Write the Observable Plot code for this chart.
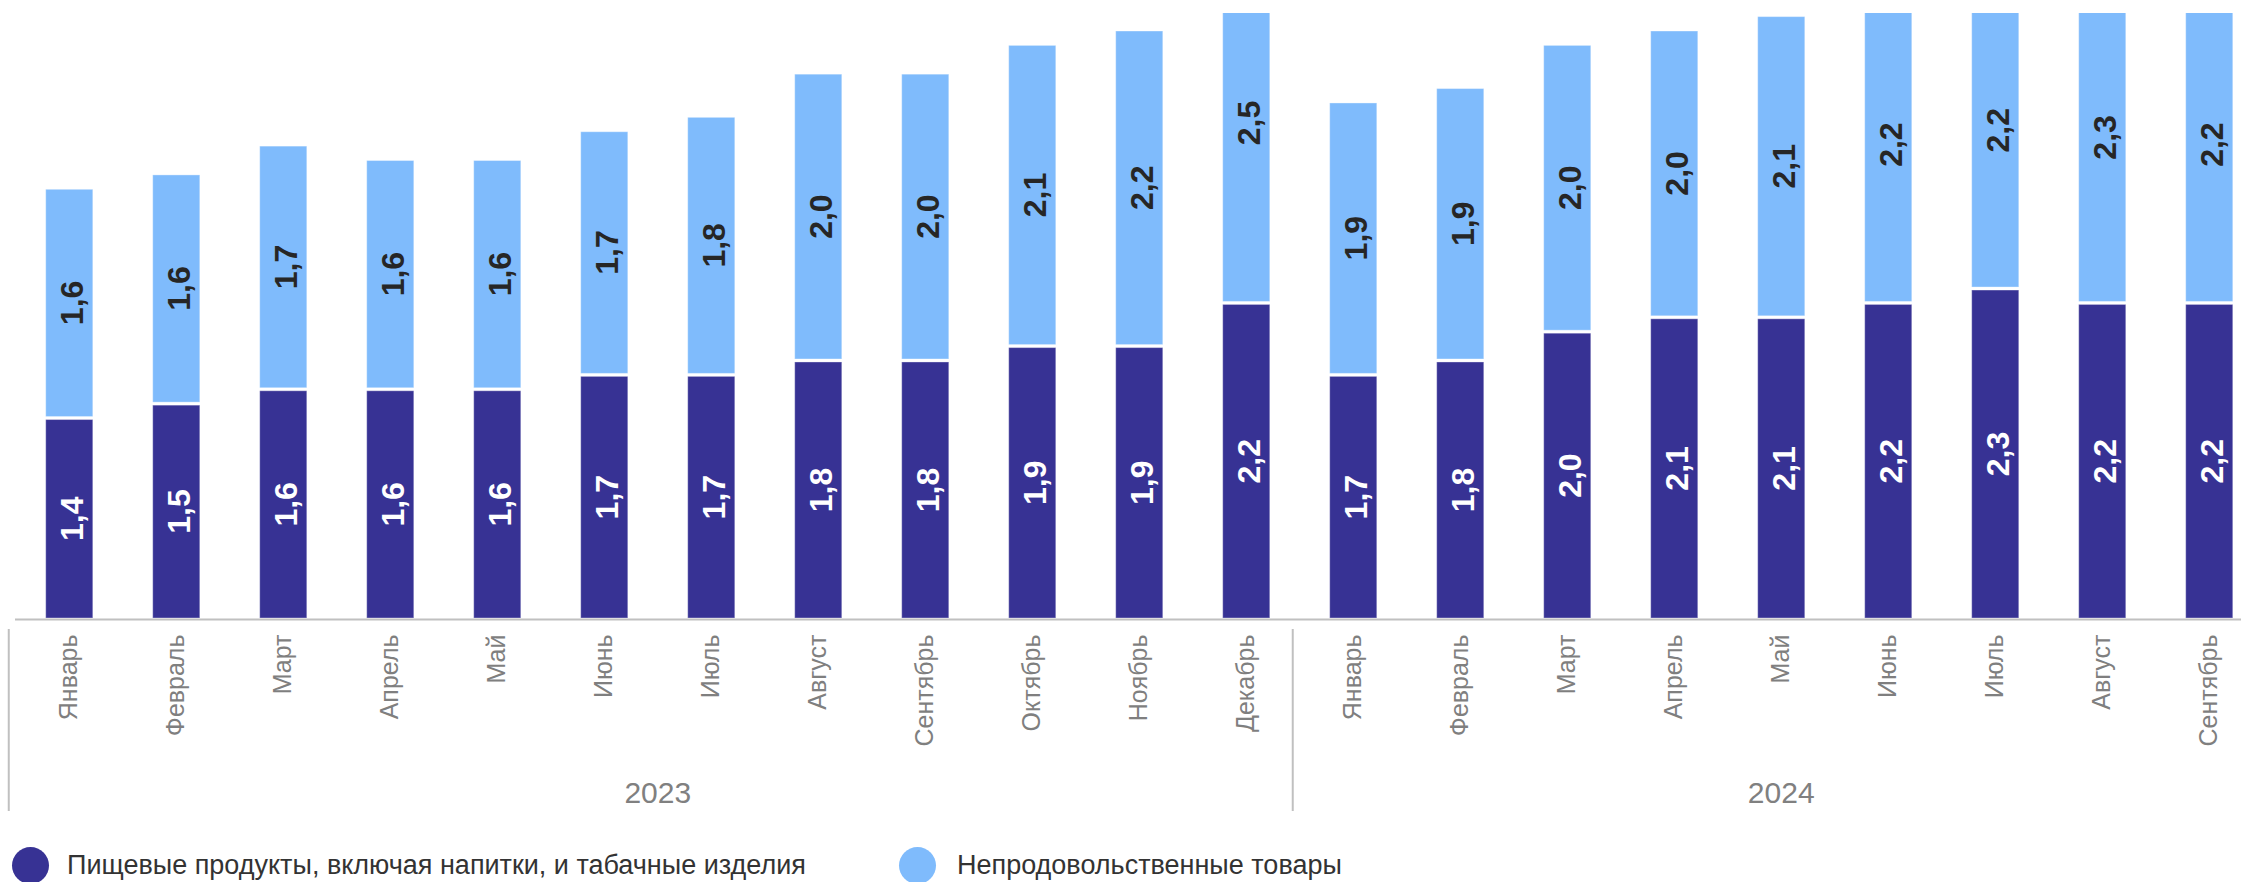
<!DOCTYPE html>
<html>
<head>
<meta charset="utf-8">
<script src="https://cdn.jsdelivr.net/npm/d3@7"></script>
<script src="https://cdn.jsdelivr.net/npm/@observablehq/plot@0.6"></script>
<style>
  html, body { margin: 0; padding: 0; background: #fff; overflow: hidden; }
  body { font-family: "Liberation Sans", Arial, sans-serif; }
  #chart svg { display: block; }
  #legend { position: relative; width: 2241px; height: 42px; }
  .item { position: absolute; top: 7px; height: 37px; display: flex; align-items: center;
          font-size: 27px; color: #333; white-space: nowrap; }
  .dot { width: 37px; height: 37px; border-radius: 50%; flex: none; }
</style>
</head>
<body>
<div id="chart"></div>
<div id="legend"></div>
<script>
// ---- data ----
const months = ["Январь","Февраль","Март","Апрель","Май","Июнь","Июль","Август","Сентябрь","Октябрь","Ноябрь","Декабрь",
                "Январь","Февраль","Март","Апрель","Май","Июнь","Июль","Август","Сентябрь"];
const years  = ["2023","2023","2023","2023","2023","2023","2023","2023","2023","2023","2023","2023",
                "2024","2024","2024","2024","2024","2024","2024","2024","2024"];
const food    = [1.4,1.5,1.6,1.6,1.6,1.7,1.7,1.8,1.8,1.9,1.9,2.2, 1.7,1.8,2.0,2.1,2.1,2.2,2.3,2.2,2.2];
const nonfood = [1.6,1.6,1.7,1.6,1.6,1.7,1.8,2.0,2.0,2.1,2.2,2.5, 1.9,1.9,2.0,2.0,2.1,2.2,2.2,2.3,2.2];
const seriesNames = ["Пищевые продукты, включая напитки, и табачные изделия", "Непродовольственные товары"];
const seriesColors = ["#373294", "#7fbbfc"];
const labelColors = ["#ffffff", "#262626"];
const yearLabels = ["2023", "2024"];

// ---- derived tables ----
const keys = months.map((m, i) => `${m} ${years[i]}`);
const rows = [];
keys.forEach((k, i) => {
  rows.push({key: k, series: seriesNames[0], value: food[i], s: 0});
  rows.push({key: k, series: seriesNames[1], value: nonfood[i], s: 1});
});
const monthRows = keys.map((k, i) => ({key: k, month: months[i], base: 0}));
const fmt = v => v.toFixed(1).replace(".", ",");

// ---- layout ----
const W = 2241, H = 840;
const pad = 0.56;
const r0 = -14.2, r1 = 2292.7;
const step = (r1 - r0) / (keys.length + pad);

// year groups: first key, last key
const groups = yearLabels.map(y => {
  const idx = keys.map((k, i) => i).filter(i => years[i] === y);
  return {year: y, first: keys[idx[0]], last: keys[idx[idx.length - 1]]};
});

const groupMark = (index, scales) => {
  const g = d3.create("svg:g");
  const x = scales.x, y0 = scales.y(0);
  for (const gr of groups) {
    const xs = x(gr.first), xe = x(gr.last);
    const bw = step * (1 - pad);
    const leftEdge = xs - (step - bw) / 2 - 7;
    g.append("line")
      .attr("x1", leftEdge).attr("x2", leftEdge)
      .attr("y1", y0 + 10).attr("y2", y0 + 192)
      .attr("stroke", "#c0c0c0").attr("stroke-width", 2);
    g.append("text")
      .attr("x", (xs + xe + bw) / 2).attr("y", y0 + 184)
      .attr("text-anchor", "middle")
      .attr("font-size", 30)
      .attr("font-family", "'Liberation Sans', Arial, sans-serif")
      .attr("fill", "#808080")
      .text(gr.year);
  }
  return g.node();
};

const chart = Plot.plot({
  width: W,
  height: H,
  marginTop: 13,
  marginBottom: H - 619,
  marginLeft: 15,
  marginRight: 0,
  style: {fontFamily: "'Liberation Sans', Arial, sans-serif", background: "#fff"},
  x: {domain: keys, range: [r0, r1], padding: pad, round: false, axis: null},
  y: {domain: [0, (619 - 13) / 143.9], axis: null},
  marks: [
    Plot.barY(rows, Plot.stackY({
      x: "key", y: "value", z: "series",
      fill: d => seriesColors[d.s],
      stroke: "#ffffff", strokeOpacity: 0.35, strokeWidth: 1,
      insetTop: 2, insetBottom: 1,
      clip: true
    })),
    Plot.ruleY([0], {stroke: "#c0c0c0", strokeWidth: 2}),
    Plot.text(rows, Plot.stackY({
      x: "key", y: "value", z: "series",
      text: d => fmt(d.value),
      fill: d => labelColors[d.s],
      rotate: -90,
      fontSize: 32,
      fontWeight: "bold",
      lineAnchor: "middle",
      dx: 3
    })),
    Plot.text(monthRows, {
      x: "key", y: "base", text: "month",
      rotate: -90, textAnchor: "end", lineAnchor: "middle",
      dy: 15, dx: -1,
      fill: "#7f7f7f", fontSize: 25
    }),
    groupMark
  ]
});
document.getElementById("chart").appendChild(chart);

// ---- legend ----
const legend = document.getElementById("legend");
const legendPos = [{dot: 12, text: 67}, {dot: 899, text: 957}];
seriesNames.forEach((name, i) => {
  const it = document.createElement("div");
  it.className = "item";
  it.style.left = legendPos[i].dot + "px";
  const dot = document.createElement("span");
  dot.className = "dot";
  dot.style.background = seriesColors[i];
  const tx = document.createElement("span");
  tx.textContent = name;
  tx.style.marginLeft = (legendPos[i].text - legendPos[i].dot - 37) + "px";
  it.appendChild(dot);
  it.appendChild(tx);
  legend.appendChild(it);
});
</script>
</body>
</html>
